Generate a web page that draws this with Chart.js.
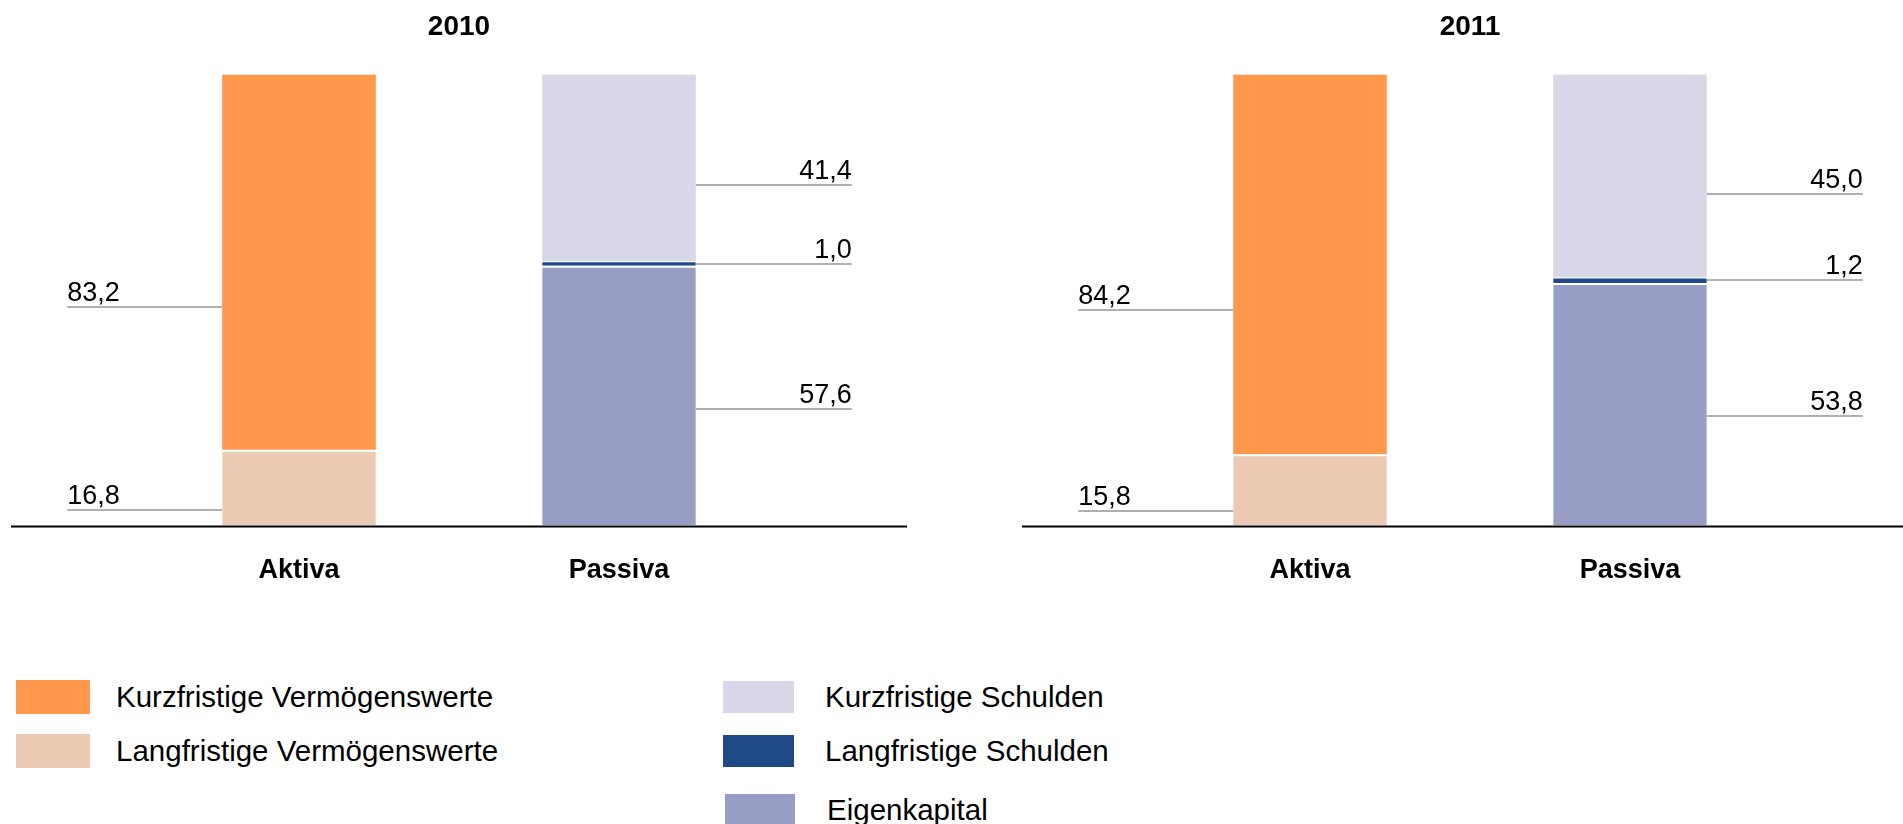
<!DOCTYPE html>
<html lang="de">
<head>
<meta charset="utf-8">
<title>Bilanzstruktur 2010 / 2011</title>
<script src="https://cdn.jsdelivr.net/npm/chart.js@4.4.0/dist/chart.umd.min.js"></script>
<style>
    html, body {
        margin: 0;
        padding: 0;
        background: #fff;
        overflow: hidden;
        width: 1903px;
        height: 824px;
        font-family: "Liberation Sans", Arial, sans-serif;
    }
    .chart-box {
        position: absolute;
        top: 0;
    }
    .legend-item {
        position: absolute;
        display: flex;
        align-items: center;
        font-size: 29.5px;
        color: #000;
        white-space: nowrap;
    }
    .legend-item span.swatch {
        display: inline-block;
        flex: none;
    }
</style>
</head>
<body>
<div class="chart-box" style="left:0px"><canvas id="chart2010" width="920" height="632"></canvas></div>
<div class="chart-box" style="left:1011px"><canvas id="chart2011" width="920" height="632"></canvas></div>
<div id="legend"></div>

<script>
// Data (Anteile in %)
const years = ['2010', '2011'];
const categories = ['Aktiva', 'Passiva'];
const kurzfristigeVermoegenswerte = [83.2, 84.2];
const langfristigeVermoegenswerte = [16.8, 15.8];
const kurzfristigeSchulden = [41.4, 45.0];
const langfristigeSchulden = [1.0, 1.2];
const eigenkapital = [57.6, 53.8];

// Series in stacking order (bottom first); side 0 = Aktiva, 1 = Passiva
const series = [
    { name: 'Langfristige Vermögenswerte', values: langfristigeVermoegenswerte, side: 0, color: '#ECC9B2', gap: 2, leaderAt: 0.21 },
    { name: 'Kurzfristige Vermögenswerte', values: kurzfristigeVermoegenswerte, side: 0, color: '#FF974C', gap: 0, leaderAt: 0.38 },
    { name: 'Eigenkapital', values: eigenkapital, side: 1, color: '#979DC4', gap: 2, leaderAt: 0.45 },
    { name: 'Langfristige Schulden', values: langfristigeSchulden, side: 1, color: '#1F4987', gap: 1, leaderAt: 0.5 },
    { name: 'Kurzfristige Schulden', values: kurzfristigeSchulden, side: 1, color: '#D8D8E8', gap: 0, leaderAt: 0.41 }
];

// Legend layout (name -> position)
const legendLayout = [
    { name: 'Kurzfristige Vermögenswerte', left: 16, top: 680, w: 74, h: 34, textLeft: 116 },
    { name: 'Langfristige Vermögenswerte', left: 16, top: 734, w: 74, h: 34, textLeft: 116 },
    { name: 'Kurzfristige Schulden', left: 723, top: 681, w: 71, h: 32, textLeft: 825 },
    { name: 'Langfristige Schulden', left: 723, top: 735, w: 71, h: 32, textLeft: 825 },
    { name: 'Eigenkapital', left: 725, top: 794, w: 70, h: 32, textLeft: 827 }
];

const FONT = '"Liberation Sans", Arial, sans-serif';
Chart.defaults.font.family = FONT;
Chart.defaults.color = '#000';

function fmt(v) {
    return v.toFixed(1).replace('.', ',');
}

// Leader lines with value labels + extended base line
const leaderPlugin = {
    id: 'leaders',
    afterDatasetsDraw(chart) {
        const ctx = chart.ctx;
        const area = chart.chartArea;

        // base line
        ctx.save();
        ctx.strokeStyle = '#000';
        ctx.lineWidth = 2;
        ctx.beginPath();
        ctx.moveTo(area.left - 128, area.bottom + 1);
        ctx.lineTo(area.right + 128, area.bottom + 1);
        ctx.stroke();
        ctx.restore();

        chart.data.datasets.forEach((ds, di) => {
            const meta = chart.getDatasetMeta(di);
            meta.data.forEach((bar, idx) => {
                const v = ds.data[idx];
                if (v == null) return;
                const p = bar.getProps(['x', 'y', 'base', 'width'], true);
                const ly = Math.round(p.base - (p.base - p.y) * ds.leaderAt);
                let x0, x1, tx, align;
                if (idx === 0) {
                    x1 = p.x - p.width / 2;
                    x0 = x1 - 155;
                    tx = x0;
                    align = 'left';
                } else {
                    x0 = p.x + p.width / 2;
                    x1 = x0 + 156;
                    tx = x1;
                    align = 'right';
                }
                ctx.save();
                ctx.strokeStyle = '#b0b0b0';
                ctx.lineWidth = 2;
                ctx.beginPath();
                ctx.moveTo(x0, ly);
                ctx.lineTo(x1, ly);
                ctx.stroke();
                ctx.fillStyle = '#000';
                ctx.font = '27px ' + FONT;
                ctx.textAlign = align;
                ctx.textBaseline = 'alphabetic';
                ctx.fillText(fmt(v), tx, ly - 6);
                ctx.restore();
            });
        });
    }
};

function buildDatasets(yearIdx) {
    return series.map(s => ({
        label: s.name,
        data: categories.map((c, ci) => ci === s.side ? s.values[yearIdx] : null),
        backgroundColor: s.color,
        borderColor: '#ffffff',
        borderWidth: { top: s.gap, right: 0, bottom: 0, left: 0 },
        borderSkipped: false,
        leaderAt: s.leaderAt
    }));
}

function createBalanceChart(canvasId, yearIdx) {
    const ctx = document.getElementById(canvasId).getContext('2d');
    return new Chart(ctx, {
        type: 'bar',
        data: {
            labels: categories,
            datasets: buildDatasets(yearIdx)
        },
        options: {
            responsive: false,
            animation: false,
            barPercentage: 0.48,
            categoryPercentage: 1,
            layout: {
                padding: { left: 139, right: 141, top: 0, bottom: 16 }
            },
            plugins: {
                legend: { display: false },
                tooltip: { enabled: false },
                title: {
                    display: true,
                    text: years[yearIdx],
                    color: '#000',
                    font: { size: 28, weight: 'bold' },
                    padding: { top: 10, bottom: 31 }
                }
            },
            scales: {
                x: {
                    stacked: true,
                    grid: { display: false, drawTicks: false },
                    border: { display: false },
                    ticks: {
                        color: '#000',
                        font: { size: 27, weight: 'bold' },
                        padding: 29
                    }
                },
                y: {
                    stacked: true,
                    display: false,
                    min: 0,
                    max: 100
                }
            }
        },
        plugins: [leaderPlugin]
    });
}

// HTML legend
function buildLegend() {
    const box = document.getElementById('legend');
    legendLayout.forEach(item => {
        const s = series.find(x => x.name === item.name);
        const el = document.createElement('div');
        el.className = 'legend-item';
        el.style.left = item.left + 'px';
        el.style.top = item.top + 'px';
        el.style.height = item.h + 'px';
        const sw = document.createElement('span');
        sw.className = 'swatch';
        sw.style.width = item.w + 'px';
        sw.style.height = item.h + 'px';
        sw.style.background = s.color;
        sw.style.marginRight = (item.textLeft - item.left - item.w) + 'px';
        const txt = document.createElement('span');
        txt.textContent = s.name;
        el.appendChild(sw);
        el.appendChild(txt);
        box.appendChild(el);
    });
}

createBalanceChart('chart2010', 0);
createBalanceChart('chart2011', 1);
buildLegend();
</script>
</body>
</html>
